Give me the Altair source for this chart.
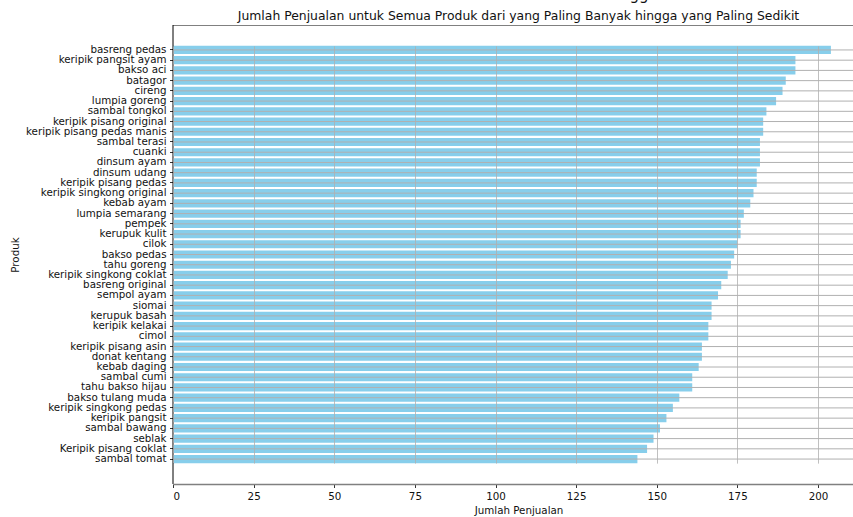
import altair as alt
import pandas as pd

products = [
    "basreng pedas", "keripik pangsit ayam", "bakso aci", "batagor", "cireng",
    "lumpia goreng", "sambal tongkol", "keripik pisang original",
    "keripik pisang pedas manis", "sambal terasi", "cuanki", "dinsum ayam",
    "dinsum udang", "keripik pisang pedas", "keripik singkong original",
    "kebab ayam", "lumpia semarang", "pempek", "kerupuk kulit", "cilok",
    "bakso pedas", "tahu goreng", "keripik singkong coklat", "basreng original",
    "sempol ayam", "siomai", "kerupuk basah", "keripik kelakai", "cimol",
    "keripik pisang asin", "donat kentang", "kebab daging", "sambal cumi",
    "tahu bakso hijau", "bakso tulang muda", "keripik singkong pedas",
    "keripik pangsit", "sambal bawang", "seblak", "Keripik pisang coklat",
    "sambal tomat",
]
sales = [
    204, 193, 193, 190, 189, 187, 184, 183, 183, 182, 182, 182, 181, 181, 180,
    179, 177, 176, 176, 175, 174, 173, 172, 170, 169, 167, 167, 166, 166, 164,
    164, 163, 161, 161, 157, 155, 153, 151, 149, 147, 144,
]
x_ticks = [0, 25, 50, 75, 100, 125, 150, 175, 200]
title_text = "Jumlah Penjualan untuk Semua Produk dari yang Paling Banyak hingga yang Paling Sedikit"

df = pd.DataFrame({"Produk": products, "Jumlah Penjualan": sales})

FONT = "DejaVu Sans"
PLOT_W = 680
PLOT_H = 459
Y_MARGIN = 20.86
GRID = "#b0b0b0"

y_scale = alt.Scale(
    domain=products,
    paddingInner=0.2,
    paddingOuter=0,
    range=[Y_MARGIN, PLOT_H - Y_MARGIN],
)

bars = alt.Chart(df).mark_bar(color="#87CEEB").encode(
    x=alt.X(
        "Jumlah Penjualan:Q",
        scale=alt.Scale(domain=[0, 210.85], nice=False, zero=True),
        axis=alt.Axis(
            values=x_ticks,
            grid=True,
            gridColor=GRID,
            gridWidth=0.8,
            zindex=1,
            domainColor="#808080",
            domainWidth=1.6,
            tickColor="black",
            tickSize=3.5,
            tickWidth=0.8,
            labelPadding=3.5,
            labelFont=FONT,
            labelFontSize=10.3,
            labelColor="#111",
            title="Jumlah Penjualan",
            titleFont=FONT,
            titleFontSize=10.3,
            titleFontWeight="normal",
            titleColor="#111",
            titleX=345.5,
            titleY=26,
            titleBaseline="middle",
            titleAlign="center",
        ),
    ),
    y=alt.Y(
        "Produk:N",
        sort=products,
        scale=y_scale,
        axis=alt.Axis(
            grid=False,
            domainColor="black",
            domainWidth=1,
            tickColor="black",
            tickSize=3.5,
            tickWidth=0.8,
            labelPadding=3.5,
            labelFont=FONT,
            labelFontSize=10.3,
            labelColor="#111",
            labelLimit=400,
            title="Produk",
            titleFont=FONT,
            titleFontSize=10.3,
            titleFontWeight="normal",
            titleColor="#111",
            titleX=-158,
            titleY=229.5,
            titleAngle=270,
            titleAlign="center",
            titleBaseline="middle",
        ),
    ),
)

hgrid = alt.Chart(df).mark_rule(color=GRID, strokeWidth=1, opacity=1).encode(
    y=alt.Y("Produk:N", sort=products, scale=y_scale, bandPosition=0.5),
    x=alt.value(0),
    x2=alt.value(PLOT_W),
)

top_rule = alt.Chart(pd.DataFrame({"a": [0]})).mark_rule(
    color="#808080", strokeWidth=1.2
).encode(x=alt.value(0), x2=alt.value(PLOT_W), y=alt.value(0.5))

left_rule = alt.Chart(pd.DataFrame({"a": [0]})).mark_rule(
    color="black", strokeWidth=1
).encode(x=alt.value(0), y=alt.value(0), y2=alt.value(PLOT_H))

title = alt.Chart(pd.DataFrame({"t": [title_text]})).mark_text(
    font=FONT, fontSize=12.4, color="#111", baseline="alphabetic", align="center"
).encode(x=alt.value(345.5), y=alt.value(-5.5), text="t:N")

gg = alt.Chart(pd.DataFrame({"t": ["gg"]})).mark_text(
    font=FONT, fontSize=15, color="#111", baseline="alphabetic", align="center"
).encode(x=alt.value(466), y=alt.value(-25.5), text="t:N")

chart = alt.layer(bars, hgrid, top_rule, left_rule, title, gg).properties(
    width=PLOT_W,
    height=PLOT_H,
    autosize=alt.AutoSizeParams(type="none"),
    padding={"left": 173, "top": 25, "right": 0, "bottom": 33},
    background="white",
).configure_view(stroke=None)

chart.save("out.html", embed_options={"renderer": "svg", "actions": False})
